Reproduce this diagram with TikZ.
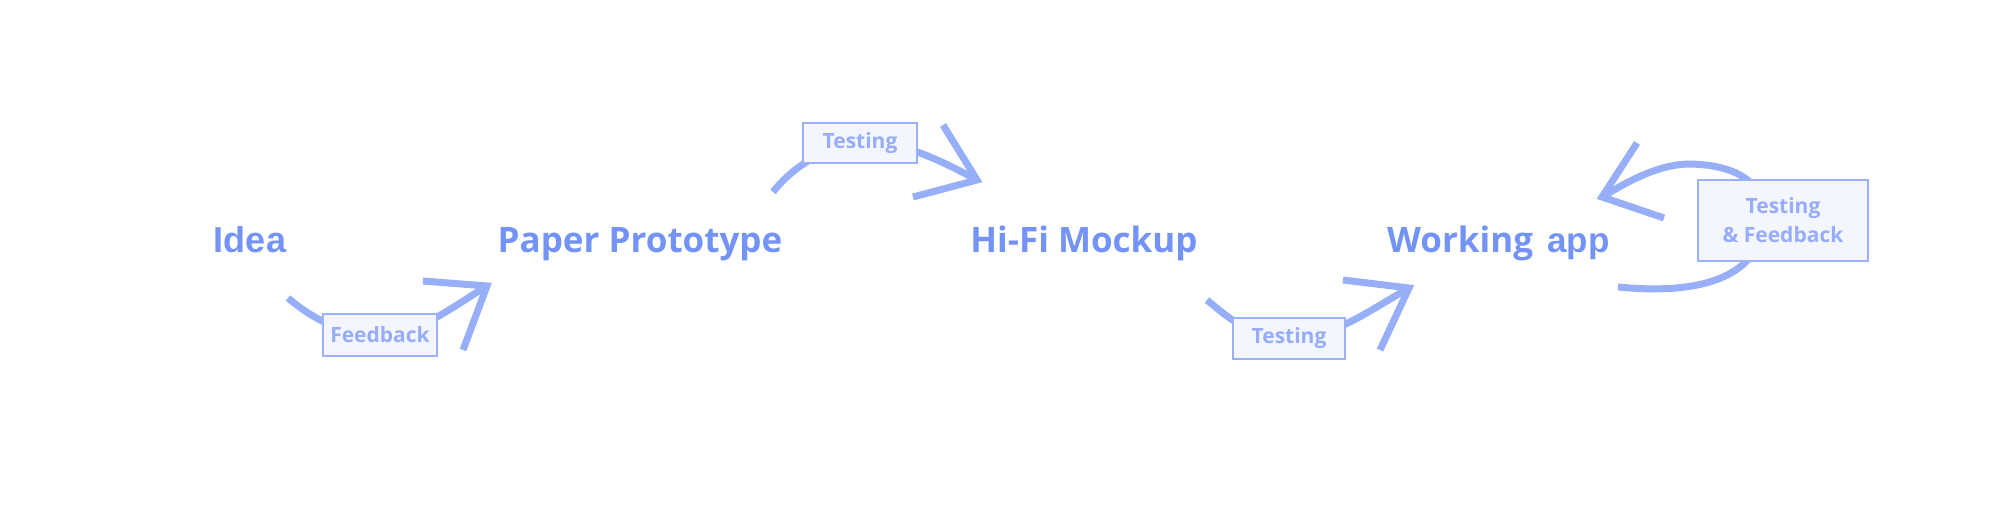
\documentclass[tikz,border=0pt]{standalone}
\usepackage{fontspec}
\setmainfont{Open Sans}
\newfontfamily\arialf{Liberation Sans}
\definecolor{maintext}{RGB}{115,147,246}
\definecolor{arrowc}{RGB}{151,174,249}
\definecolor{boxfill}{RGB}{243,246,254}
\definecolor{boxdraw}{RGB}{155,177,250}
\definecolor{boxtext}{RGB}{151,173,249}
\begin{document}
\begin{tikzpicture}[x=1pt,y=-1pt,
  stage/.style={text=maintext, font=\fontsize{35}{42}\selectfont\bfseries, anchor=base, inner sep=0pt},
  lbl/.style={draw=boxdraw, fill=boxfill, line width=2.5pt, text=boxtext,
    font=\fontsize{21}{29}\selectfont\bfseries, inner sep=0pt, align=center},
  flow/.style={draw=arrowc, line width=7pt},
  head/.style={draw=arrowc, line width=7pt, line join=miter, miter limit=10}]
\useasboundingbox (0,0) rectangle (1989,509);

% stage labels
\node[stage, font=\fontsize{36}{40}\selectfont\bfseries\arialf] (idea) at (250,252) {Idea};
\node[stage] (paper) at (640,252) {Paper Prototype};
\node[stage] (hifi) at (1084,252) {Hi-Fi Mockup};
\node[stage, anchor=base west] (work) at (1387,252) {Working};
\node[stage, anchor=base west, font=\fontsize{35}{42}\selectfont\bfseries\arialf] (app) at (1547,252) {app};

% coordinates
\coordinate (s1) at (288,298);
\coordinate (f1c) at (380,335);
\coordinate (t1) at (487,286);
\coordinate (a1) at (423,281);
\coordinate (b1) at (463,350);

\coordinate (s2) at (773,192);
\coordinate (f2c) at (860,143);
\coordinate (t2) at (977,180);
\coordinate (a2) at (943,125);
\coordinate (b2) at (913,197);

\coordinate (s3) at (1207,300);
\coordinate (f3c) at (1289,338.5);
\coordinate (t3) at (1409,288);
\coordinate (a3) at (1343,280);
\coordinate (b3) at (1380,350);

\coordinate (s4) at (1618,287);
\coordinate (f4c) at (1765,225);
\coordinate (m4) at (1690,164);
\coordinate (t4) at (1602,197);
\coordinate (a4) at (1637,143);
\coordinate (b4) at (1664,218);

% connectors
\draw[flow] (s1) .. controls (320,325) and (350,335) .. (f1c) .. controls (420,334) and (455,305) .. (t1);
\draw[head] (a1) -- (t1) -- (b1);

\draw[flow] (s2) .. controls (790,170) and (820,148) .. (f2c) .. controls (900,140) and (940,160) .. (t2);
\draw[head] (a2) -- (t2) -- (b2);

\draw[flow] (s3) .. controls (1225,315) and (1250,338) .. (f3c) .. controls (1330,340) and (1370,310) .. (t3);
\draw[head] (a3) -- (t3) -- (b3);

\draw[flow] (s4) .. controls (1700,295) and (1755,278) .. (f4c) .. controls (1768,185) and (1740,165) .. (m4) .. controls (1660,164) and (1630,180) .. (t4);
\draw[head] (a4) -- (t4) -- (b4);

% label boxes
\node[lbl, minimum width=114pt, minimum height=42pt] (f1) at (f1c) {Feedback};
\node[lbl, minimum width=114pt, minimum height=40pt] (f2) at (f2c) {Testing};
\node[lbl, minimum width=112pt, minimum height=41pt] (f3) at (f3c) {Testing};
\node[lbl, minimum width=170pt, minimum height=81pt] (f4) at (1783,220.5) {Testing\\\& Feedback};
\end{tikzpicture}
\end{document}
